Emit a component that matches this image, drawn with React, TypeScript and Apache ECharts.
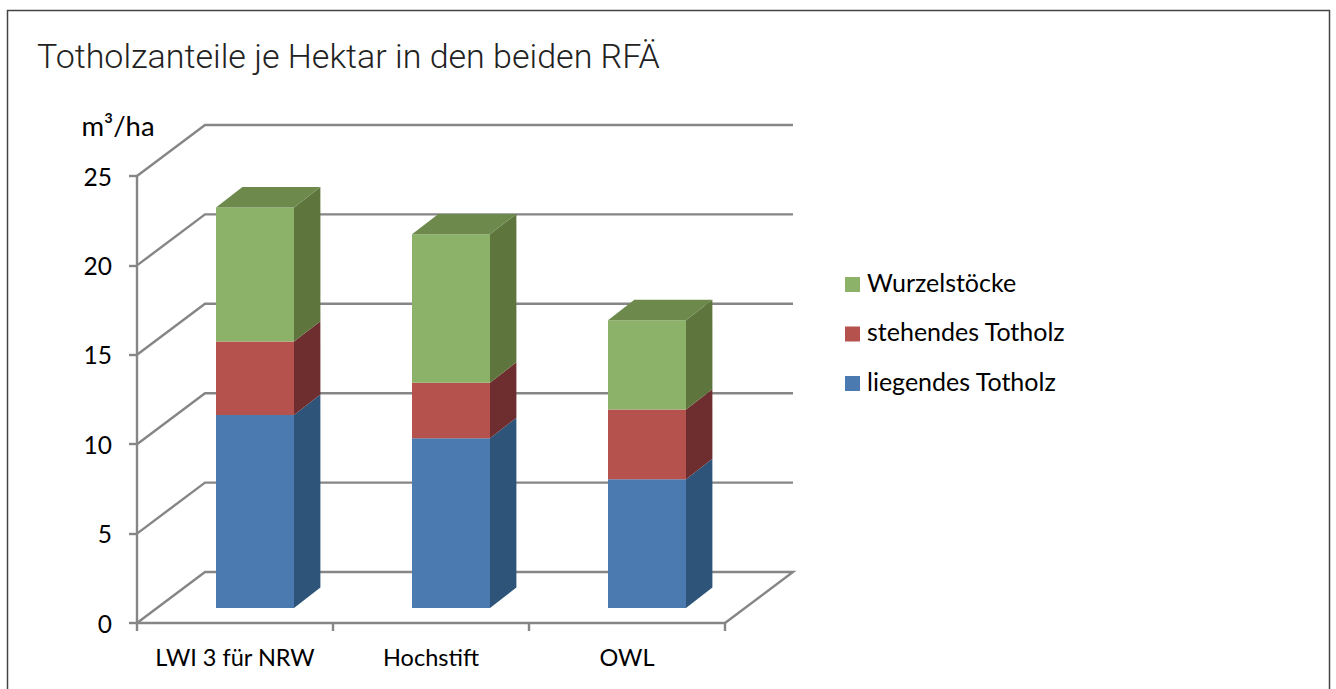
import React, { useEffect, useRef } from "react";
import * as echarts from "echarts";

const titleText = "Totholzanteile je Hektar in den beiden RFÄ";
const unitText = "m³/ha";
const categories = ["LWI 3 für NRW", "Hochstift", "OWL"];
const liegend = [10.8, 9.5, 7.2];
const stehend = [4.1, 3.1, 3.9];
const wurzel = [7.5, 8.3, 5.0];
const gridTicks = [0, 5, 10, 15, 20, 25];

const FONT = "Lato, 'Open Sans', sans-serif";
const GREY = "#868686";
const WALL_DX = 68;
const WALL_DY = 51;
const BAR_W = 78;
const BAR_SHIFT_X = 20;
const BAR_SHIFT_Y = 15;
const BAR_DX = 26.4;
const BAR_DY = 20.4;

function stackRows(values: number[], below: number[][]) {
  return values.map((v, i) => {
    const start = below.reduce((s, arr) => s + arr[i], 0);
    return [i, start, start + v];
  });
}

function barSeries(name: string, rows: number[][], front: string, side: string, top?: string) {
  return {
    type: "custom",
    name,
    data: rows,
    encode: { x: 0, y: [1, 2] },
    clip: false,
    silent: true,
    z: 3,
    itemStyle: { color: front },
    renderItem: (_p: any, api: any) => {
      const a = api.coord([api.value(0), api.value(1)]);
      const b = api.coord([api.value(0), api.value(2)]);
      const xl = a[0] + BAR_SHIFT_X - BAR_W / 2;
      const xr = xl + BAR_W;
      const y0 = a[1] - BAR_SHIFT_Y;
      const y1 = b[1] - BAR_SHIFT_Y;
      const children: any[] = [
        {
          type: "polygon",
          shape: { points: [[xr, y0], [xr + BAR_DX, y0 - BAR_DY], [xr + BAR_DX, y1 - BAR_DY], [xr, y1]] },
          style: { fill: side },
        },
        {
          type: "polygon",
          shape: { points: [[xl, y0], [xr, y0], [xr, y1], [xl, y1]] },
          style: { fill: front },
        },
      ];
      if (top) {
        children.push({
          type: "polygon",
          shape: { points: [[xl, y1], [xr, y1], [xr + BAR_DX, y1 - BAR_DY], [xl + BAR_DX, y1 - BAR_DY]] },
          style: { fill: top },
        });
      }
      return { type: "group", children };
    },
  };
}

export default function App() {
  const ref = useRef<HTMLDivElement>(null);
  useEffect(() => {
    const chart = echarts.init(ref.current!, null, { renderer: "svg" });
    chart.setOption({
      animation: false,
      backgroundColor: "#ffffff",
      title: {
        text: titleText,
        left: 32,
        top: 34,
        textStyle: { fontFamily: "Roboto", fontWeight: 300, fontSize: 34, color: "#222222" },
      },
      grid: { left: 137, top: 176, width: 588, height: 447, containLabel: false },
      legend: {
        data: ["Wurzelstöcke", "stehendes Totholz", "liegendes Totholz"],
        orient: "vertical",
        left: 840,
        top: 264,
        itemWidth: 15,
        itemHeight: 15,
        itemGap: 18.5,
        icon: "rect",
        selectedMode: false,
        formatter: (n: string) => `{t|${n}}`,
        textStyle: {
          rich: {
            t: { fontFamily: FONT, fontSize: 25, lineHeight: 24, color: "#000000", padding: [0, 0, 6, 2] },
          },
        },
      },
      xAxis: {
        type: "category",
        data: categories,
        axisLine: { lineStyle: { color: GREY, width: 2.4 } },
        axisTick: { show: true, interval: 0, length: 8, alignWithLabel: false, lineStyle: { color: GREY, width: 2.4 } },
        axisLabel: { interval: 0, margin: 22, fontFamily: FONT, fontSize: 23.5, color: "#000000" },
      },
      yAxis: {
        type: "value",
        min: 0,
        max: 25,
        interval: 5,
        name: unitText,
        nameLocation: "end",
        nameGap: 37,
        nameTextStyle: { fontFamily: FONT, fontSize: 27.5, color: "#000000", align: "center", padding: [0, 38, 0, 0] },
        axisLine: { show: true, lineStyle: { color: GREY, width: 2.4 } },
        axisTick: { show: true, length: 8, lineStyle: { color: GREY, width: 2.4 } },
        axisLabel: { margin: 25, fontFamily: FONT, fontSize: 24.5, color: "#000000" },
        splitLine: { show: false },
      },
      series: [
        {
          type: "custom",
          name: "wall",
          data: gridTicks.map((t) => [0, t]),
          encode: { x: 0, y: 1 },
          clip: false,
          silent: true,
          z: 1,
          renderItem: (params: any, api: any) => {
            const p = api.coord([0, api.value(1)]);
            const cs = params.coordSys;
            const lineStyle = { stroke: GREY, lineWidth: 2.4, fill: "none" };
            const pts: number[][] = [
              [cs.x, p[1]],
              [cs.x + WALL_DX, p[1] - WALL_DY],
              [cs.x + cs.width + WALL_DX, p[1] - WALL_DY],
            ];
            if (api.value(1) === 0) pts.push([cs.x + cs.width, p[1]]);
            return { type: "polyline", shape: { points: pts }, style: lineStyle };
          },
        },
        barSeries("liegendes Totholz", stackRows(liegend, []), "#4A7AB0", "#2E5579"),
        barSeries("stehendes Totholz", stackRows(stehend, [liegend]), "#B5524E", "#6E2D2F"),
        barSeries("Wurzelstöcke", stackRows(wurzel, [liegend, stehend]), "#8CB168", "#5E763D", "#6D8A4C"),
      ],
      graphic: [
        {
          type: "rect",
          silent: true,
          z: 0,
          shape: { x: 7.5, y: 10.5, width: 1322, height: 700 },
          style: { fill: "none", stroke: "#444444", lineWidth: 1.5 },
        },
      ],
    });
    return () => chart.dispose();
  }, []);
  return <div ref={ref} style={{ position: "fixed", left: 0, top: 0, width: 1336, height: 689 }} />;
}
